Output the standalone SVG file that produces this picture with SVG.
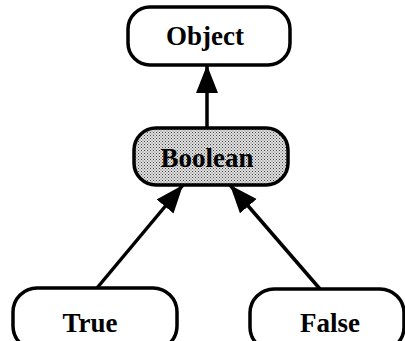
<svg xmlns="http://www.w3.org/2000/svg" width="405" height="341" viewBox="0 0 405 341">
  <defs>
    <pattern id="stipple" width="3" height="3" patternUnits="userSpaceOnUse">
      <rect width="3" height="3" fill="#e0e0e0"/>
      <rect x="0" y="0" width="1" height="1" fill="#444"/>
      <rect x="1.5" y="1.5" width="1" height="1" fill="#666"/>
    </pattern>
    <marker id="arrow" markerUnits="userSpaceOnUse" markerWidth="30" markerHeight="24" refX="28" refY="11" orient="auto">
      <path d="M0,0 L28,11 L0,22 Z" fill="#000"/>
    </marker>
  </defs>
  <style>
    .box { fill: #fff; stroke: #000; stroke-width: 3.5; }
    .label { font-family: "Liberation Serif", "Times New Roman", serif; font-weight: bold; font-size: 27px; text-anchor: middle; fill: #000; }
    .edge { stroke: #000; stroke-width: 3.5; fill: none; marker-end: url(#arrow); }
  </style>
  <rect width="405" height="341" fill="#fff"/>
  <g id="connectors">
    <line class="edge" x1="207" y1="128" x2="207" y2="65"/>
    <line class="edge" x1="97" y1="288" x2="183" y2="185"/>
    <line class="edge" x1="320" y1="289" x2="230" y2="185"/>
  </g>
  <g id="object">
    <rect class="box" x="128" y="7" width="162" height="58" rx="22"/>
    <text class="label" x="205" y="45">Object</text>
  </g>
  <g id="boolean">
    <rect class="box" x="134" y="128" width="154" height="57" rx="22" style="fill:url(#stipple)"/>
    <text class="label" x="207" y="167">Boolean</text>
  </g>
  <g id="true">
    <rect class="box" x="13" y="288" width="164" height="62" rx="24"/>
    <text class="label" x="90" y="332">True</text>
  </g>
  <g id="false">
    <rect class="box" x="250" y="289" width="154" height="62" rx="24"/>
    <text class="label" x="330" y="332">False</text>
  </g>
</svg>
